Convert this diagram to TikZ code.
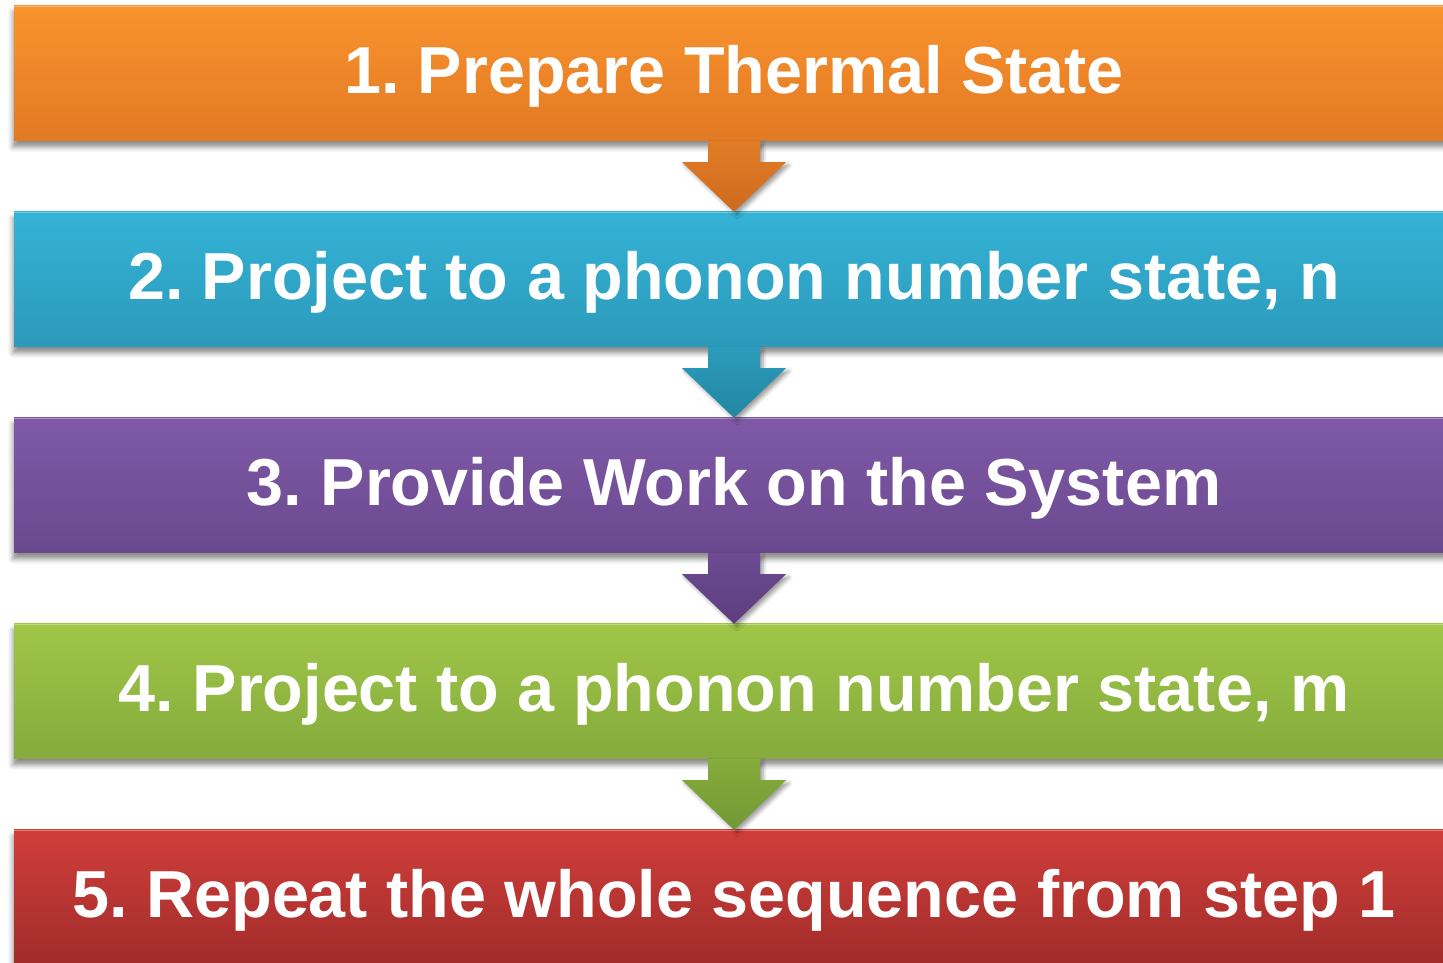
\documentclass[tikz,border=0pt]{standalone}
\usepackage{fontspec}
\setmainfont{Liberation Sans}
\usetikzlibrary{calc,shadows.blur}
\frenchspacing

% stage colours: top and bottom of each gradient, plus the darker arrow tones
\definecolor{oTop}{RGB}{249,147,45}
\definecolor{oBot}{RGB}{226,121,36}
\definecolor{oArT}{RGB}{225,124,38}
\definecolor{oArB}{RGB}{206,106,30}
\definecolor{bTop}{RGB}{52,178,214}
\definecolor{bBot}{RGB}{44,154,186}
\definecolor{bArT}{RGB}{44,156,188}
\definecolor{bArB}{RGB}{34,134,162}
\definecolor{pTop}{RGB}{127,89,168}
\definecolor{pBot}{RGB}{106,73,142}
\definecolor{pArT}{RGB}{108,75,146}
\definecolor{pArB}{RGB}{92,62,126}
\definecolor{gTop}{RGB}{160,198,72}
\definecolor{gBot}{RGB}{132,171,60}
\definecolor{gArT}{RGB}{134,172,60}
\definecolor{gArB}{RGB}{114,152,52}
\definecolor{rTop}{RGB}{208,62,58}
\definecolor{rBot}{RGB}{160,44,42}

\tikzset{
  stage/.style={rectangle, inner sep=0pt, minimum width=1440pt, minimum height=135pt,
    text=white, font=\bfseries\fontsize{66.5}{70}\selectfont,
    text height=47pt, text depth=6pt,
    blur shadow={shadow xshift=-1pt, shadow yshift=-6pt, shadow blur radius=5pt, shadow opacity=45}},
  flowarrow/.style={blur shadow={shadow xshift=3pt, shadow yshift=-3pt, shadow blur radius=4pt, shadow opacity=40}},
  rim/.style={line width=1.5pt, white, opacity=0.35}
}

\begin{document}
\begin{tikzpicture}[x=1pt,y=1pt]
\useasboundingbox (0,0) rectangle (1443,963);
\clip (0,0) rectangle (1443,963);

% the five stages, top to bottom
\node[stage, top color=oTop, bottom color=oBot] (s1) at (734,{963-73.5}) {1. Prepare Thermal State};
\node[stage, top color=bTop, bottom color=bBot] (s2) at (734,{963-279.5}) {2. Project to a phonon number state, n};
\node[stage, top color=pTop, bottom color=pBot] (s3) at (734,{963-485.5}) {3. Provide Work on the System};
\node[stage, top color=gTop, bottom color=gBot] (s4) at (734,{963-691.5}) {4. Project to a phonon number state, m};
\node[stage, top color=rTop, bottom color=rBot] (s5) at (734,{963-897.5}) {5. Repeat the whole sequence from step 1};

% faint highlight along the upper edge of each stage
\foreach \s in {s1,s2,s3,s4,s5}
  \draw[rim] ($(\s.north west)+(0,-0.75)$) -- ($(\s.north east)+(0,-0.75)$);

% block arrows joining consecutive stages
\foreach \a/\b/\ct/\cb in {s1/s2/oArT/oArB, s2/s3/bArT/bArB, s3/s4/pArT/pArB, s4/s5/gArT/gArB}
  \path[flowarrow, top color=\ct, bottom color=\cb]
    ($(\a.south)+(-26,0)$) -- ($(\a.south)+(26,0)$) -- ($(\a.south)+(26,-21)$)
    -- ($(\a.south)+(52,-21)$) -- (\b.north) -- ($(\a.south)+(-52,-21)$)
    -- ($(\a.south)+(-26,-21)$) -- cycle;
\end{tikzpicture}
\end{document}
